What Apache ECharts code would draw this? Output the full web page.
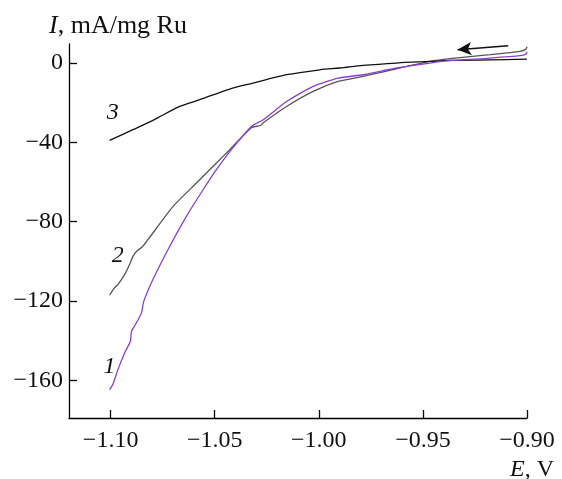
<!DOCTYPE html>
<html>
<head>
<meta charset="utf-8">
<script src="https://cdn.jsdelivr.net/npm/echarts@6/dist/echarts.min.js"></script>
<style>
html,body{margin:0;padding:0;background:#fff;}
#chart{width:562px;height:479px;}
</style>
</head>
<body>
<div id="chart"></div>
<script>
// Tick labels
const xTicks = [-1.10, -1.05, -1.00, -0.95, -0.90];
const yTicks = [0, -40, -80, -120, -160];

// Curve 1 (purple)
const E1 = [-1.1005,-1.0989,-1.0965,-1.0933,-1.0905,-1.0900,-1.0876,-1.0852,-1.0841,-1.0797,-1.0716,-1.0636,-1.0556,-1.0492,-1.0420,-1.0324,-1.0267,-1.0155,-1.0027,-0.9907,-0.9788,-0.9626,-0.9466,-0.9370,-0.9178,-0.9034,-0.9005,-0.9000];
const I1 = [-164.7,-162.0,-154.6,-146.2,-140.3,-135.3,-131.0,-126.0,-120.2,-109.2,-92.4,-77.3,-63.9,-53.8,-43.7,-32.0,-28.6,-19.4,-11.8,-7.6,-5.9,-2.5,0.0,1.2,2.5,3.7,4.5,5.7];

// Curve 2 (grey)
const E2 = [-1.1005,-1.0981,-1.0965,-1.0933,-1.0909,-1.0893,-1.0876,-1.0845,-1.0821,-1.0700,-1.0588,-1.0492,-1.0428,-1.0324,-1.0280,-1.0267,-1.0155,-1.0027,-0.9907,-0.9788,-0.9626,-0.9466,-0.9370,-0.9178,-0.9034,-0.9005,-0.9000];
const I2 = [-117.1,-113.3,-111.7,-106.7,-101.6,-97.5,-95.0,-92.4,-89.1,-72.3,-60.5,-50.4,-43.7,-32.6,-31.5,-30.1,-21.9,-14.3,-9.3,-6.7,-2.9,0.8,2.2,4.2,5.9,7.0,8.2];

// Curve 3 (black)
const E3 = [-1.1005,-1.0893,-1.0797,-1.0668,-1.0572,-1.0428,-1.0316,-1.0155,-0.9995,-0.9899,-0.9787,-0.9626,-0.9466,-0.9370,-0.9178,-0.9000];
const I3 = [-39.0,-33.6,-28.9,-21.9,-18.5,-13.1,-10.1,-5.9,-3.4,-2.5,-1.2,0.0,0.8,1.3,1.6,2.0];

// Curve numbers and scan-direction arrow (data coordinates)
const curveLabels = [["1",-1.1005,-153],["2",-1.0966,-97],["3",-1.099,-25]];
const arrowFrom = [-0.909, 8.7];
const arrowTo = [-0.9334, 6.7];

const zip = (a,b) => a.map((v,i)=>[v,b[i]]);
const FONT = '"Liberation Serif","Times New Roman",serif';
const minus = s => s.replace('-', '\u2212');

const chart = echarts.init(document.getElementById('chart'));
chart.setOption({
  animation:false,
  backgroundColor:'#fff',
  grid:{left:69,right:35,top:44,bottom:61},
  xAxis:{
    type:'value', min:-1.12, max:-0.90,
    axisLine:{onZero:false,lineStyle:{color:'#000',width:1.3}},
    axisTick:{inside:true,length:8,customValues:xTicks,lineStyle:{color:'#000',width:1.3}},
    axisLabel:{customValues:xTicks,margin:11,color:'#111',fontFamily:FONT,fontSize:24,
      formatter:v=>minus(v.toFixed(2))},
    splitLine:{show:false}
  },
  yAxis:{
    type:'value', min:-179, max:9.6,
    axisLine:{show:true,onZero:false,lineStyle:{color:'#000',width:1.3}},
    axisTick:{show:true,inside:true,length:8,customValues:yTicks,lineStyle:{color:'#000',width:1.3}},
    axisLabel:{customValues:yTicks,margin:6,color:'#111',fontFamily:FONT,fontSize:24,
      formatter:v=>minus(String(v))},
    splitLine:{show:false}
  },
  graphic:[
    {type:'text',left:49,top:13,style:{text:'{i|I}, mA/mg Ru',fill:'#111',font:'26px '+FONT,
      rich:{i:{fontStyle:'italic',fontFamily:FONT,fontSize:26,fill:'#111'}}}},
    {type:'text',right:8,top:458,style:{text:'{i|E}, V',fill:'#111',font:'24px '+FONT,
      rich:{i:{fontStyle:'italic',fontFamily:FONT,fontSize:24,fill:'#111'}}}}
  ],
  series:[
    {type:'line',data:zip(E1,I1),showSymbol:false,smooth:0.2,lineStyle:{color:'#8a3fd0',width:1.3},z:3},
    {type:'line',data:zip(E2,I2),showSymbol:false,smooth:0.2,lineStyle:{color:'#555',width:1.3},z:2},
    {type:'line',data:zip(E3,I3),showSymbol:false,smooth:0.3,lineStyle:{color:'#111',width:1.3},z:2,
      markLine:{silent:true,symbol:['none','arrow'],symbolSize:[10,14],
        lineStyle:{color:'#111',width:1.5,type:'solid'},label:{show:false},
        data:[[{coord:arrowFrom},{coord:arrowTo}]]},
      markPoint:{symbol:'circle',symbolSize:1,itemStyle:{color:'transparent'},
        label:{show:true,position:'inside',color:'#111',fontFamily:FONT,fontSize:24,fontStyle:'italic',
          formatter:p=>p.name},
        data:curveLabels.map(c=>({name:c[0],coord:[c[1],c[2]]}))}
    }
  ]
});
</script>
</body>
</html>
